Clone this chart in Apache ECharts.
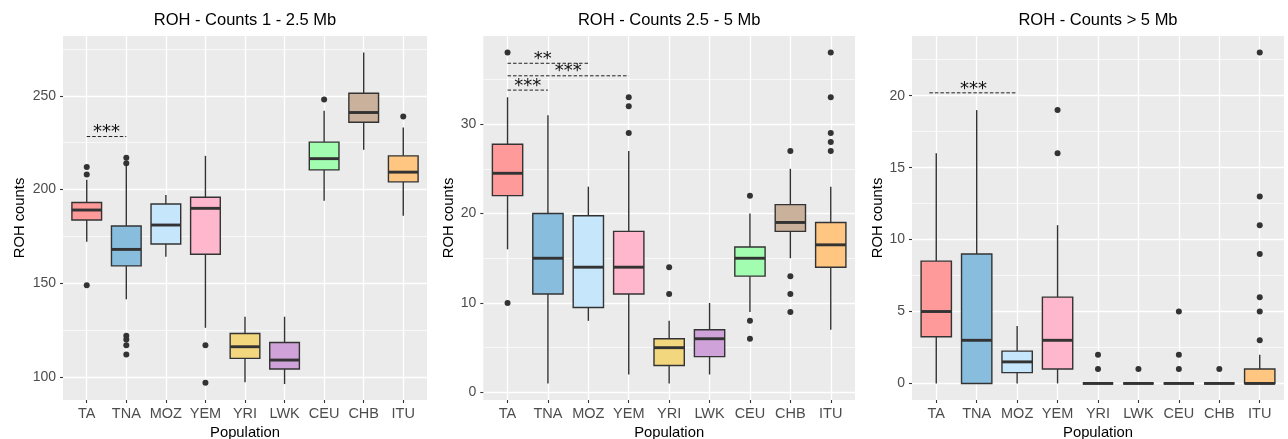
<!DOCTYPE html>
<html>
<head>
<meta charset="utf-8">
<script src="https://cdn.jsdelivr.net/npm/echarts@6/dist/echarts.min.js"></script>
<style>
  html, body { margin: 0; padding: 0; background: #ffffff; }
  #chart { width: 1288px; height: 439px; }
</style>
</head>
<body>
<div id="chart"></div>
<script>
// ---- data ---------------------------------------------------------------
const populations = ['TA', 'TNA', 'MOZ', 'YEM', 'YRI', 'LWK', 'CEU', 'CHB', 'ITU'];

const panelTitles = ['ROH - Counts 1 - 2.5 Mb', 'ROH - Counts 2.5 - 5 Mb', 'ROH - Counts > 5 Mb'];

// five-number summaries per population: [lower whisker, Q1, median, Q3, upper whisker]
const statsShort = [
  [172.2, 183.8, 189.1, 193.1, 205.2],
  [141.5, 159.3, 168.1, 180.6, 212.6],
  [164.2, 171.0, 181.1, 192.3, 197.1],
  [126.3, 165.5, 190.0, 195.9, 218.0],
  [97.2, 110.0, 116.2, 123.3, 132.2],
  [96.3, 104.3, 109.1, 118.5, 132.2],
  [194.0, 210.5, 216.5, 225.3, 242.0],
  [221.2, 235.9, 241.1, 251.4, 273.1],
  [186.0, 204.1, 209.3, 218.0, 233.1]
];
const outliersShort = [[212, 208, 149], [217, 214, 122, 120, 117, 112], [], [117, 97], [], [], [248], [], [239]];

const statsMedium = [
  [16, 22, 24.5, 27.75, 33],
  [1, 11, 15, 20, 31],
  [8, 9.5, 14, 19.75, 23],
  [2, 11, 14, 18, 27],
  [1, 3, 5, 6, 8],
  [2, 4, 6, 7, 10],
  [9, 13, 15, 16.25, 20],
  [15, 18, 19, 21, 25],
  [7, 14, 16.5, 19, 23]
];
const outliersMedium = [[38, 10], [], [], [33, 32, 29], [14, 11], [], [22, 8, 6], [27, 13, 11, 9], [38, 33, 29, 28, 27]];

const statsLong = [
  [0, 3.25, 5, 8.5, 16],
  [0, 0, 3, 9, 19],
  [0, 0.75, 1.5, 2.25, 4],
  [0, 1, 3, 6, 11],
  [0, 0, 0, 0, 0],
  [0, 0, 0, 0, 0],
  [0, 0, 0, 0, 0],
  [0, 0, 0, 0, 0],
  [0, 0, 0, 1, 2]
];
const outliersLong = [[], [], [], [19, 16], [2, 1], [1], [5, 2, 1], [1], [23, 13, 11, 9, 6, 5, 3]];

// y axis ranges and tick labels
const rangeShort = [87.8, 281.9];
const ticksShort = [100, 150, 200, 250];
const minorShort = [125, 175, 225, 275];

const rangeMedium = [-0.85, 39.85];
const ticksMedium = [0, 10, 20, 30];
const minorMedium = [5, 15, 25, 35];

const rangeLong = [-1.15, 24.15];
const ticksLong = [0, 5, 10, 15, 20];
const minorLong = [2.5, 7.5, 12.5, 17.5, 22.5];

// significance brackets: [from, to, height, stars, star position]
const sigShort = [[0, 1, 228.3, '***', 0.5]];
const sigMedium = [[0, 2, 36.8, '**', 0.87], [0, 3, 35.4, '***', 1.5], [0, 1, 33.8, '***', 0.5]];
const sigLong = [[-0.17, 2, 20.2, '***', 0.92]];

// ---- styling ------------------------------------------------------------
const palette = ['#FF9A9A', '#88BDDD', '#C6E6FB', '#FFB7CE', '#F3D77F', '#D0A2DA', '#A2FDB1', '#CAB19C', '#FFC682'];
const FONT = 'Liberation Sans, Arial, Helvetica, sans-serif';
const INK = '#333333';

const panelBoxes = [
  { left: 63, right: 427, nameGap: 36 },
  { left: 483.3, right: 855, nameGap: 27 },
  { left: 912, right: 1284, nameGap: 27 }
];
const PANEL_TOP = 36, PANEL_BOTTOM = 400;

const panels = [
  { stats: statsShort, outliers: outliersShort, range: rangeShort, ticks: ticksShort, minor: minorShort, sig: sigShort },
  { stats: statsMedium, outliers: outliersMedium, range: rangeMedium, ticks: ticksMedium, minor: minorMedium, sig: sigMedium },
  { stats: statsLong, outliers: outliersLong, range: rangeLong, ticks: ticksLong, minor: minorLong, sig: sigLong }
];

const catIndex = populations.map((_, i) => i);

function renderBox(params, api) {
  const x = api.value(0);
  const lo = api.coord([x, api.value(1)]);
  const q1 = api.coord([x, api.value(2)]);
  const md = api.coord([x, api.value(3)]);
  const q3 = api.coord([x, api.value(4)]);
  const hi = api.coord([x, api.value(5)]);
  const w = api.size([0.75, 0])[0];
  const edge = { stroke: INK, lineWidth: 1.4 };
  return {
    type: 'group',
    children: [
      { type: 'line', shape: { x1: lo[0], y1: lo[1], x2: q1[0], y2: q1[1] }, style: edge },
      { type: 'line', shape: { x1: q3[0], y1: q3[1], x2: hi[0], y2: hi[1] }, style: edge },
      { type: 'rect', shape: { x: q3[0] - w / 2, y: q3[1], width: w, height: q1[1] - q3[1] },
        style: { fill: palette[x], stroke: INK, lineWidth: 1.4 } },
      { type: 'line', shape: { x1: md[0] - w / 2, y1: md[1], x2: md[0] + w / 2, y2: md[1] },
        style: { stroke: INK, lineWidth: 2.9 } }
    ]
  };
}

function makeSigRender(list) {
  return function (params, api) {
    const s = list[params.dataIndex];
    const a = api.coord([api.value(0), api.value(2)]);
    const b = api.coord([api.value(1), api.value(2)]);
    const t = api.coord([api.value(3), api.value(2)]);
    return {
      type: 'group',
      children: [
        { type: 'line', shape: { x1: a[0], y1: a[1], x2: b[0], y2: b[1] },
          style: { stroke: '#222', lineWidth: 1, lineDash: [3.5, 2] } },
        { type: 'text', x: t[0], y: a[1] + 5,
          style: { text: s[3], fill: '#111', font: '18px "DejaVu Sans"', align: 'center', verticalAlign: 'bottom' } }
      ]
    };
  };
}

const grid = [], xAxis = [], yAxis = [], series = [], title = [];

panels.forEach((p, i) => {
  const box = panelBoxes[i];
  grid.push({
    left: box.left, width: box.right - box.left, top: PANEL_TOP, height: PANEL_BOTTOM - PANEL_TOP,
    show: true, backgroundColor: '#EBEBEB', borderWidth: 0, containLabel: false, outerBoundsMode: 'none'
  });
  title.push({
    text: panelTitles[i], left: (box.left + box.right) / 2, top: 12, textAlign: 'center', padding: 0,
    textStyle: { fontFamily: FONT, fontSize: 16.5, fontWeight: 'normal', color: '#000' }
  });
  xAxis.push({
    type: 'value', gridIndex: i, position: 'bottom', min: -0.6, max: 8.6,
    axisLine: { show: false, onZero: false },
    axisTick: { show: true, length: 3, customValues: catIndex, lineStyle: { color: INK, width: 1.1 } },
    axisLabel: { customValues: catIndex, formatter: v => populations[v], color: '#4D4D4D',
      fontFamily: FONT, fontSize: 14.5, margin: 6 },
    splitLine: { show: true, lineStyle: { color: '#FFFFFF', width: 1.3 } },
    name: 'Population', nameLocation: 'middle', nameGap: 24,
    nameTextStyle: { fontFamily: FONT, fontSize: 14.8, color: '#000' }
  });
  yAxis.push({
    type: 'value', gridIndex: i, position: 'left', min: p.range[0], max: p.range[1],
    axisLine: { show: false, onZero: false },
    axisTick: { show: true, length: 3, customValues: p.ticks, lineStyle: { color: INK, width: 1.1 } },
    axisLabel: { customValues: p.ticks, color: '#4D4D4D', fontFamily: FONT, fontSize: 14, margin: 7 },
    splitLine: { show: true, lineStyle: { color: '#FFFFFF', width: 1.3 } },
    name: 'ROH counts', nameLocation: 'middle', nameGap: box.nameGap, nameRotate: 90,
    nameTextStyle: { fontFamily: FONT, fontSize: 14.8, color: '#000' }
  });
  yAxis.push({
    type: 'value', gridIndex: i, position: 'left', offset: 0, min: p.range[0], max: p.range[1],
    axisLine: { show: false, onZero: false },
    axisTick: { show: false, customValues: p.minor },
    axisLabel: { show: false, customValues: p.minor },
    splitLine: { show: true, lineStyle: { color: '#FFFFFF', width: 0.65 } }
  });

  series.push({
    type: 'custom', xAxisIndex: i, yAxisIndex: 2 * i,
    renderItem: renderBox,
    encode: { x: 0, y: [1, 2, 3, 4, 5] },
    data: p.stats.map((s, k) => [k].concat(s)),
    silent: true, z: 2
  });

  const pts = [];
  p.outliers.forEach((list, k) => list.forEach(v => pts.push([k, v])));
  series.push({
    type: 'scatter', xAxisIndex: i, yAxisIndex: 2 * i,
    data: pts, symbol: 'circle', symbolSize: 6,
    itemStyle: { color: INK, opacity: 1 }, silent: true, z: 3
  });

  series.push({
    type: 'custom', xAxisIndex: i, yAxisIndex: 2 * i,
    renderItem: makeSigRender(p.sig),
    encode: { x: [0, 1, 3], y: 2 },
    data: p.sig.map(s => [s[0], s[1], s[2], s[4]]),
    clip: false, silent: true, z: 4
  });
});

const chart = echarts.init(document.getElementById('chart'), null, { renderer: 'canvas' });
chart.setOption({
  animation: false,
  backgroundColor: '#FFFFFF',
  title, grid, xAxis, yAxis, series,
  tooltip: { show: false }
});
</script>
</body>
</html>
